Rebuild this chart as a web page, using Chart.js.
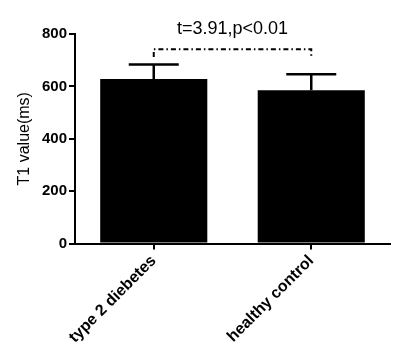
<!DOCTYPE html>
<html>
<head>
<meta charset="utf-8">
<script src="https://cdn.jsdelivr.net/npm/chart.js@4.4.0/dist/chart.umd.min.js"></script>
<style>
  html, body { margin: 0; padding: 0; background: #fff; }
  #wrap { width: 400px; height: 363px; }
</style>
</head>
<body>
<div id="wrap"><canvas id="c" width="400" height="363"></canvas></div>
<script>
// values
const groups = ['type 2 diebetes', 'healthy control'];
const means = [628, 585];
const sds = [56, 61];
const yTicks = [0, 200, 400, 600, 800];
const statText = 't=3.91,p<0.01';
const bracketValue = 742;   // height of the dash-dot bracket
const bracketDrop = 712;    // where its ends stop

// error bars (upper half only, like the original)
const errorBars = {
	id: 'errorBars',
	afterDatasetsDraw(chart) {
		const { ctx, scales: { x, y } } = chart;
		ctx.save();
		ctx.strokeStyle = '#000';
		ctx.lineWidth = 2.5;
		means.forEach((m, i) => {
			const cx = x.getPixelForValue(i);
			const top = y.getPixelForValue(m + sds[i]);
			ctx.beginPath();
			ctx.moveTo(cx, y.getPixelForValue(m));
			ctx.lineTo(cx, top);
			ctx.moveTo(cx - 25, top);
			ctx.lineTo(cx + 25, top);
			ctx.stroke();
		});
		ctx.restore();
	}
};

// significance bracket + text
const bracket = {
	id: 'bracket',
	afterDraw(chart) {
		const { ctx, scales: { x, y } } = chart;
		const x1 = x.getPixelForValue(0), x2 = x.getPixelForValue(1);
		const by = y.getPixelForValue(bracketValue);
		const bd = y.getPixelForValue(bracketDrop);
		ctx.save();
		ctx.strokeStyle = '#000';
		ctx.lineWidth = 2;
		ctx.setLineDash([5, 3, 1.5, 3]);
		ctx.beginPath();
		ctx.moveTo(x1, bd);
		ctx.lineTo(x1, by);
		ctx.lineTo(x2, by);
		ctx.lineTo(x2, bd);
		ctx.stroke();
		ctx.setLineDash([]);
		ctx.fillStyle = '#000';
		ctx.font = '18px "Liberation Sans", Arial, sans-serif';
		ctx.textAlign = 'center';
		ctx.textBaseline = 'alphabetic';
		ctx.fillText(statText, (x1 + x2) / 2, 34);
		ctx.restore();
	}
};

new Chart(document.getElementById('c'), {
	type: 'bar',
	data: {
		labels: groups,
		datasets: [{ data: means, backgroundColor: '#000', borderWidth: 0, categoryPercentage: 1, barPercentage: 0.68 }]
	},
	options: {
		responsive: false,
		animation: false,
		layout: { padding: { top: 34, right: 10, left: 15, bottom: 0 } },
		plugins: { legend: { display: false }, tooltip: { enabled: false } },
		scales: {
			x: {
				offset: true,
				grid: { display: true, drawOnChartArea: false, offset: false, color: '#000', lineWidth: 2, tickLength: 6 },
				border: { color: '#000', width: 2 },
				ticks: {
					color: '#000', minRotation: 45, maxRotation: 45, padding: 2,
					font: { family: '"Liberation Sans", Arial, sans-serif', size: 16, weight: 'bold' }
				},
				afterFit(s) { s.height = 119.5; }
			},
			y: {
				min: 0, max: 800,
				afterBuildTicks(s) { s.ticks = yTicks.map(v => ({ value: v })); },
				grid: { display: true, drawOnChartArea: false, color: '#000', lineWidth: 2, tickLength: 6 },
				border: { color: '#000', width: 2 },
				ticks: {
					color: '#000', padding: 2,
					font: { family: '"Liberation Sans", Arial, sans-serif', size: 15, weight: 'bold' }
				},
				title: {
					display: true, text: 'T1 value(ms)', color: '#000', padding: { top: 0, bottom: 4 },
					font: { family: '"Liberation Sans", Arial, sans-serif', size: 16 }
				},
				afterFit(s) { s.width = 60; }
			}
		}
	},
	plugins: [errorBars, bracket]
});
</script>
</body>
</html>
